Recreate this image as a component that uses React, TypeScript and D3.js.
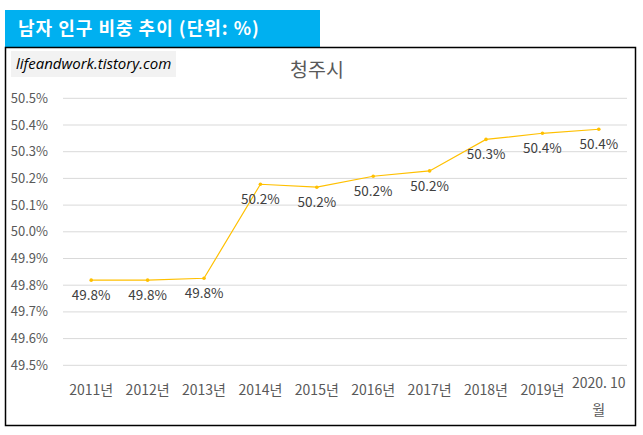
import { useEffect, useRef } from "react";
import * as d3 from "d3";

const years = [
  "2011년", "2012년", "2013년", "2014년", "2015년",
  "2016년", "2017년", "2018년", "2019년", "2020. 10 월",
];
const maleShare = [49.819, 49.819, 49.826, 50.178, 50.167, 50.208, 50.228, 50.346, 50.369, 50.384];
const yTicks = [49.5, 49.6, 49.7, 49.8, 49.9, 50.0, 50.1, 50.2, 50.3, 50.4, 50.5];

const W = 643;
const H = 435;
const KR = "'Noto Sans CJK KR', 'Noto Sans', sans-serif";

export default function App() {
  const ref = useRef<SVGSVGElement | null>(null);

  useEffect(() => {
    document.body.style.margin = "0";
    if (!ref.current) return;
    const svg = d3.select(ref.current);
    svg.selectAll("*").remove();

    // header banner
    svg.append("rect").attr("x", 5).attr("y", 10).attr("width", 315).attr("height", 37).attr("fill", "#00b0f0");
    svg
      .append("text")
      .attr("x", 18)
      .attr("y", 35)
      .attr("font-family", KR)
      .attr("font-weight", 700)
      .attr("font-size", 18)
      .attr("letter-spacing", 1)
      .attr("fill", "#fff")
      .text("남자 인구 비중 추이 (단위: %)");

    // chart frame
    svg
      .append("rect")
      .attr("x", 5.5)
      .attr("y", 47.5)
      .attr("width", 630)
      .attr("height", 378)
      .attr("fill", "#fff")
      .attr("stroke", "#000")
      .attr("stroke-width", 1.5);

    // watermark
    svg.append("rect").attr("x", 11).attr("y", 51).attr("width", 165).attr("height", 26).attr("fill", "#f2f2f2");
    svg
      .append("text")
      .attr("x", 16)
      .attr("y", 69)
      .attr("font-family", "'Open Sans', sans-serif")
      .attr("font-style", "italic")
      .attr("font-size", 15)
      .attr("fill", "#000")
      .text("lifeandwork.tistory.com");

    svg
      .append("text")
      .attr("x", 317)
      .attr("y", 77)
      .attr("text-anchor", "middle")
      .attr("font-family", KR)
      .attr("font-size", 19.5)
      .attr("fill", "#595959")
      .text("청주시");

    const x = d3.scaleBand<string>().domain(years).range([63, 627]);
    const y = d3.scaleLinear().domain([49.5, 50.5]).range([365.3, 98.3]);

    // gridlines
    svg
      .append("g")
      .selectAll("line")
      .data(yTicks)
      .join("line")
      .attr("x1", 63)
      .attr("x2", 627)
      .attr("y1", (d) => y(d))
      .attr("y2", (d) => y(d))
      .attr("stroke", "#d9d9d9")
      .attr("stroke-width", 1);

    // y labels
    svg
      .append("g")
      .selectAll("text")
      .data(yTicks)
      .join("text")
      .attr("x", 48)
      .attr("y", (d) => y(d))
      .attr("dy", "0.35em")
      .attr("text-anchor", "end")
      .attr("font-family", KR)
      .attr("font-size", 13)
      .attr("fill", "#595959")
      .text((d) => d.toFixed(1) + "%");

    // x labels
    const xl = svg
      .append("g")
      .selectAll("text")
      .data(years)
      .join("text")
      .attr("text-anchor", "middle")
      .attr("font-family", KR)
      .attr("font-size", 14)
      .attr("fill", "#595959")
      .attr("transform", (d) => `translate(${x(d)! + x.bandwidth() / 2},0)`);
    xl.each(function (d) {
      const t = d3.select(this);
      if (d.startsWith("2020")) {
        t.append("tspan").attr("x", 0).attr("y", 388).text("2020. 10");
        t.append("tspan").attr("x", 0).attr("y", 415).text("월");
      } else {
        t.append("tspan").attr("x", 0).attr("y", 395).text(d);
      }
    });

    const cx = (i: number) => x(years[i])! + x.bandwidth() / 2;

    const line = d3
      .line<number>()
      .x((_, i) => cx(i))
      .y((d) => y(d));

    svg
      .append("path")
      .datum(maleShare)
      .attr("d", line)
      .attr("fill", "none")
      .attr("stroke", "#ffc000")
      .attr("stroke-width", 1.2);

    svg
      .append("g")
      .selectAll("circle")
      .data(maleShare)
      .join("circle")
      .attr("cx", (_, i) => cx(i))
      .attr("cy", (d) => y(d))
      .attr("r", 1.8)
      .attr("fill", "#ffc000");

    // data labels
    svg
      .append("g")
      .selectAll("text")
      .data(maleShare)
      .join("text")
      .attr("x", (_, i) => cx(i))
      .attr("y", (d) => y(d) + 20)
      .attr("text-anchor", "middle")
      .attr("font-family", KR)
      .attr("font-size", 13.5)
      .attr("fill", "#404040")
      .text((d) => d.toFixed(1) + "%");
  }, []);

  return <svg ref={ref} width={W} height={H} style={{ display: "block" }} />;
}
